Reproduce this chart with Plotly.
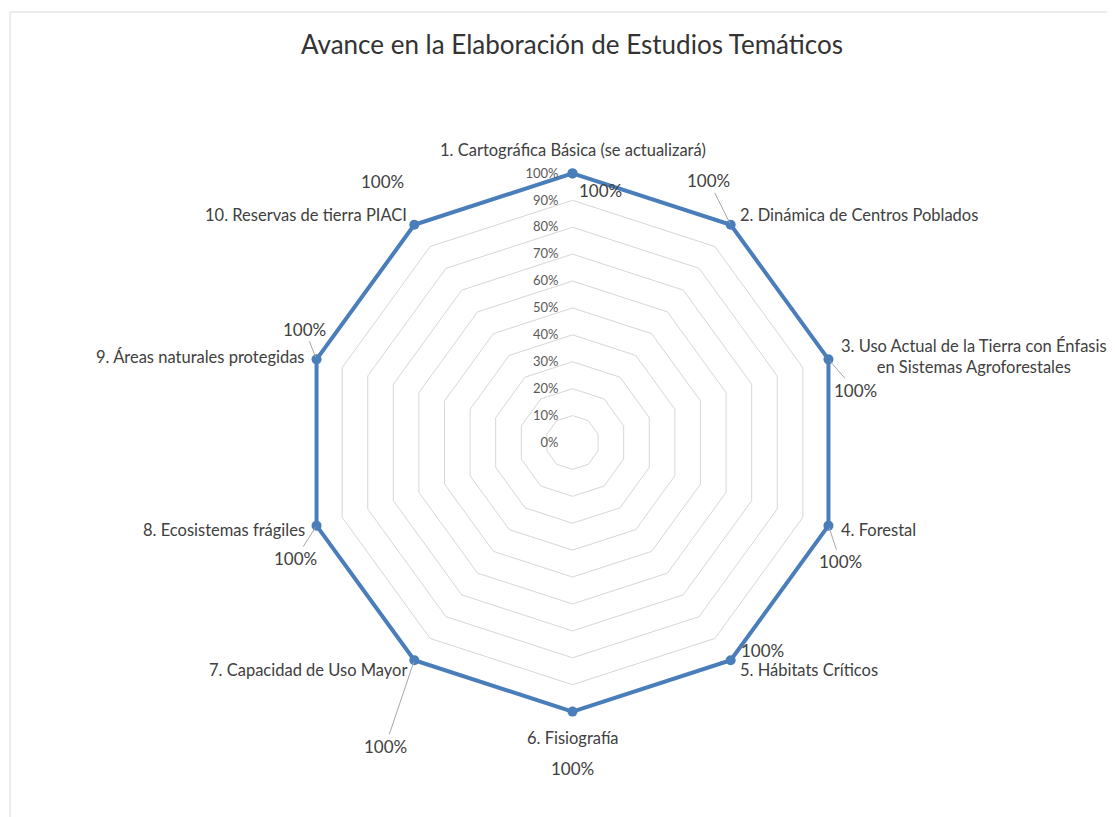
import math
import plotly.graph_objects as go

categories = [
    "1. Cartográfica Básica (se actualizará)",
    "2. Dinámica de Centros Poblados",
    "3. Uso Actual de la Tierra con Énfasis<br>en Sistemas Agroforestales",
    "4. Forestal",
    "5. Hábitats Críticos",
    "6. Fisiografía",
    "7. Capacidad de Uso Mayor",
    "8. Ecosistemas frágiles",
    "9. Áreas naturales protegidas",
    "10. Reservas de tierra PIACI",
]
avance = [1.0, 1.0, 1.0, 1.0, 1.0, 1.0, 1.0, 1.0, 1.0, 1.0]
radial_ticks = [0, 0.1, 0.2, 0.3, 0.4, 0.5, 0.6, 0.7, 0.8, 0.9, 1.0]
radial_ticktext = ["0%", "10%", "20%", "30%", "40%", "50%", "60%", "70%", "80%", "90%", "100%"]
title_text = "Avance en la Elaboración de Estudios Temáticos"

# data-label offsets (px) from their point and whether a leader line is drawn
label_dx = [28, -22, 27, 12, 32, 0, -29, -21, -12, -32]
label_dy = [17, -44, 31, 36, -10, 57, 86, 33, -30, -43]
label_leader = [False, True, True, True, False, False, True, True, True, False]

# category-label placement relative to their point
cat_anchor = ["center", "left", "left", "left", "left", "center", "right", "right", "right", "right"]
cat_dx = [0, 7, 11, 11, 7, 0, -5, -10, -10, -5]
cat_dy = [-23, -10, -3, 4, 10, 26, 10, 4, -2, -10]

W, H = 1107, 809
R_MAX = 1.02
ML, MT, SIDE = 290, 160, 549
MR = W - ML - SIDE
MB = H - MT - SIDE

FONT = "Lato"
BLUE = "#4A7EBB"
TXT = "#404040"

fig = go.Figure()
fig.add_trace(go.Scatterpolar(
    r=avance + [avance[0]],
    theta=categories + [categories[0]],
    mode="lines+markers",
    line=dict(color=BLUE, width=4),
    marker=dict(color=BLUE, size=10),
    cliponaxis=False,
    hoverinfo="skip",
    showlegend=False,
))

n = len(categories)


def to_paper(r, i):
    ang = 2 * math.pi * i / n
    return 0.5 + 0.5 * (r / R_MAX) * math.sin(ang), 0.5 + 0.5 * (r / R_MAX) * math.cos(ang)


annotations = []
for i, v in enumerate(avance):
    xp, yp = to_paper(v, i)
    txt = f"{v*100:.0f}%"
    if label_leader[i]:
        annotations.append(dict(
            x=xp, y=yp, xref="paper", yref="paper", text=txt,
            showarrow=True, arrowhead=0, arrowwidth=1, arrowcolor="#A6A6A6",
            ax=label_dx[i], ay=label_dy[i], standoff=2,
            font=dict(family=FONT, size=17, color=TXT),
        ))
    else:
        annotations.append(dict(
            x=xp, y=yp, xref="paper", yref="paper", text=txt,
            showarrow=False, xanchor="center", yanchor="middle",
            xshift=label_dx[i], yshift=-label_dy[i],
            font=dict(family=FONT, size=17, color=TXT),
        ))
    annotations.append(dict(
        x=xp, y=yp, xref="paper", yref="paper", text=categories[i],
        showarrow=False, xanchor=cat_anchor[i], yanchor="middle", align="center",
        xshift=cat_dx[i], yshift=-cat_dy[i],
        font=dict(family=FONT, size=16.5, color=TXT),
    ))

fig.update_layout(
    width=W, height=H,
    margin=dict(l=ML, r=MR, t=MT, b=MB),
    paper_bgcolor="white",
    plot_bgcolor="white",
    font=dict(family=FONT, color=TXT),
    title=dict(text=title_text, x=564 / W, xanchor="center", y=1 - 37 / H, yanchor="middle",
               font=dict(family=FONT, size=26, color="#333333")),
    polar=dict(
        bgcolor="white",
        gridshape="linear",
        domain=dict(x=[0, 1], y=[0, 1]),
        radialaxis=dict(
            range=[0, R_MAX], tickvals=radial_ticks, ticktext=radial_ticktext,
            angle=90, tickangle=90, showline=False,
            ticks="outside", ticklen=9, tickcolor="rgba(0,0,0,0)",
            gridcolor="#D6D6D6", gridwidth=1.3,
            tickfont=dict(family=FONT, size=13, color="#595959"),
            side="counterclockwise",
        ),
        angularaxis=dict(
            type="category", period=n,
            rotation=90, direction="clockwise",
            showgrid=False, showline=False, ticks="", showticklabels=False,
        ),
    ),
    annotations=annotations,
    shapes=[dict(type="rect", xref="paper", yref="paper",
                 x0=(2 - ML) / SIDE, x1=(W + 5 - ML) / SIDE,
                 y0=-(MB + 5) / SIDE, y1=(H - 4 - MB) / SIDE,
                 line=dict(color="#D9D9D9", width=1), fillcolor="rgba(0,0,0,0)", layer="below")],
)

fig.write_html("out.html")
